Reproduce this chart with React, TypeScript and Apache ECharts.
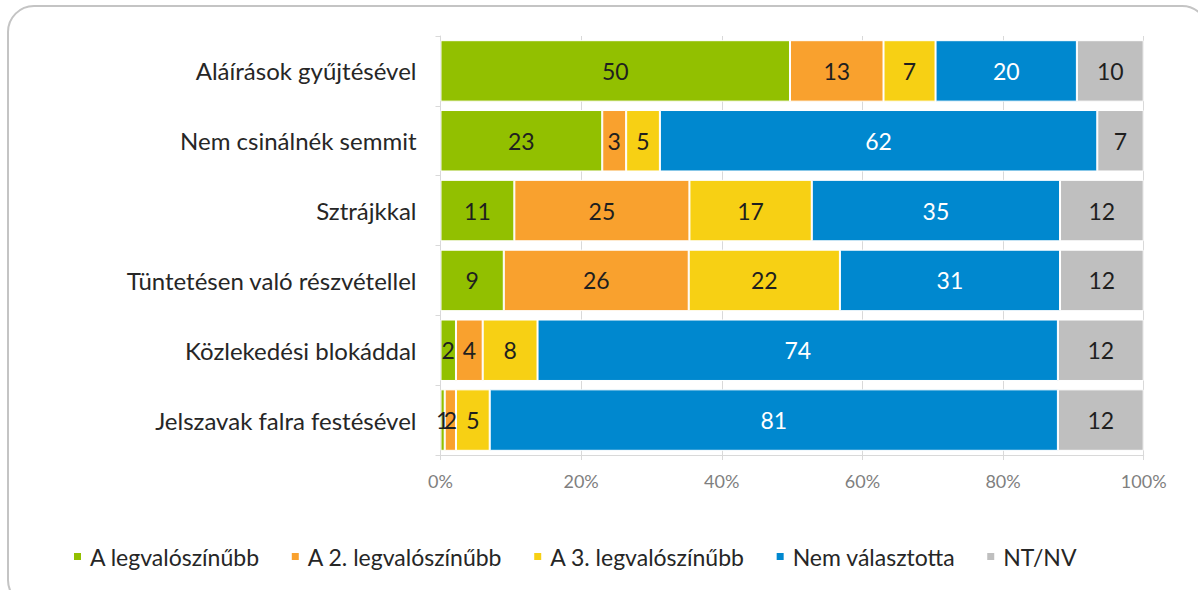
import React, { useEffect, useRef } from "react";
import * as echarts from "echarts";

const categories = [
  "Aláírások gyűjtésével",
  "Nem csinálnék semmit",
  "Sztrájkkal",
  "Tüntetésen való részvétellel",
  "Közlekedési blokáddal",
  "Jelszavak falra festésével",
];

const seriesNames = [
  "A legvalószínűbb",
  "A 2. legvalószínűbb",
  "A 3. legvalószínűbb",
  "Nem választotta",
  "NT/NV",
];

const first = [49.7, 23.0, 10.5, 9.0, 2.2, 0.6];
const second = [13.3, 3.4, 24.9, 26.3, 3.8, 1.6];
const third = [7.4, 4.8, 17.4, 21.5, 7.8, 4.8];
const notChosen = [20.1, 62.2, 35.3, 31.3, 74.0, 80.8];
const dontKnow = [9.5, 6.6, 11.9, 11.9, 12.2, 12.2];

const colors = ["#92c000", "#f9a12e", "#f7d014", "#0088cf", "#bfbfbf"];
const labelColors = ["#1f1f1f", "#1f1f1f", "#1f1f1f", "#ffffff", "#1f1f1f"];
const xTicks = [0, 20, 40, 60, 80, 100];

const FONT = "Lato, 'Open Sans', sans-serif";

export default function App() {
  const ref = useRef<HTMLDivElement>(null);
  useEffect(() => {
    if (!ref.current) return;
    const chart = echarts.init(ref.current, null, { renderer: "svg" });
    const data = [first, second, third, notChosen, dontKnow];
    chart.setOption({
      animation: false,
      textStyle: { fontFamily: FONT },
      graphic: [
        {
          type: "rect",
          shape: { x: 8, y: 6, width: 1200, height: 600, r: 26 },
          style: { fill: "none", stroke: "#c4c4c4", lineWidth: 2 },
          silent: true,
          z: -10,
        },
      ],
      grid: { left: 440.5, right: 54.3, top: 36, bottom: 135 },
      legend: {
        top: 540,
        left: 67,
        itemWidth: 9,
        itemHeight: 9,
        itemGap: 30,
        icon: "rect",
        textStyle: { fontFamily: FONT, fontSize: 23, color: "#262626", padding: [0, 0, 0, 3] },
        data: seriesNames,
      },
      xAxis: {
        type: "value",
        min: 0,
        max: 100,
        interval: 20,
        axisLine: { show: true, lineStyle: { color: "#d9d9d9", width: 1 } },
        axisTick: { show: true, length: 5, lineStyle: { color: "#d9d9d9" } },
        splitLine: { show: true, lineStyle: { color: "#d9d9d9", width: 1 } },
        axisLabel: {
          fontFamily: FONT,
          fontSize: 18,
          color: "#7f7f7f",
          margin: 17,
          formatter: (v: number) => (xTicks.includes(v) ? v + "%" : ""),
        },
      },
      yAxis: {
        type: "category",
        inverse: true,
        data: categories,
        axisLine: { show: true, lineStyle: { color: "#d9d9d9", width: 1 } },
        axisTick: { show: true, length: 5, lineStyle: { color: "#d9d9d9" } },
        axisLabel: { fontFamily: FONT, fontSize: 24, color: "#262626", margin: 24 },
      },
      series: seriesNames.map((name, i) => ({
        name,
        type: "bar",
        stack: "total",
        barCategoryGap: "12%",
        data: data[i],
        itemStyle: { color: colors[i], borderColor: "#ffffff", borderWidth: 1 },
        label: {
          show: true,
          position: "inside",
          fontFamily: FONT,
          fontSize: 23,
          color: labelColors[i],
          formatter: (p: any) => String(Math.round(p.value)),
        },
      })),
    });
    return () => chart.dispose();
  }, []);
  return (
    <div
      ref={ref}
      style={{ position: "absolute", left: 0, top: 0, width: 1198, height: 590, background: "#ffffff" }}
    />
  );
}
